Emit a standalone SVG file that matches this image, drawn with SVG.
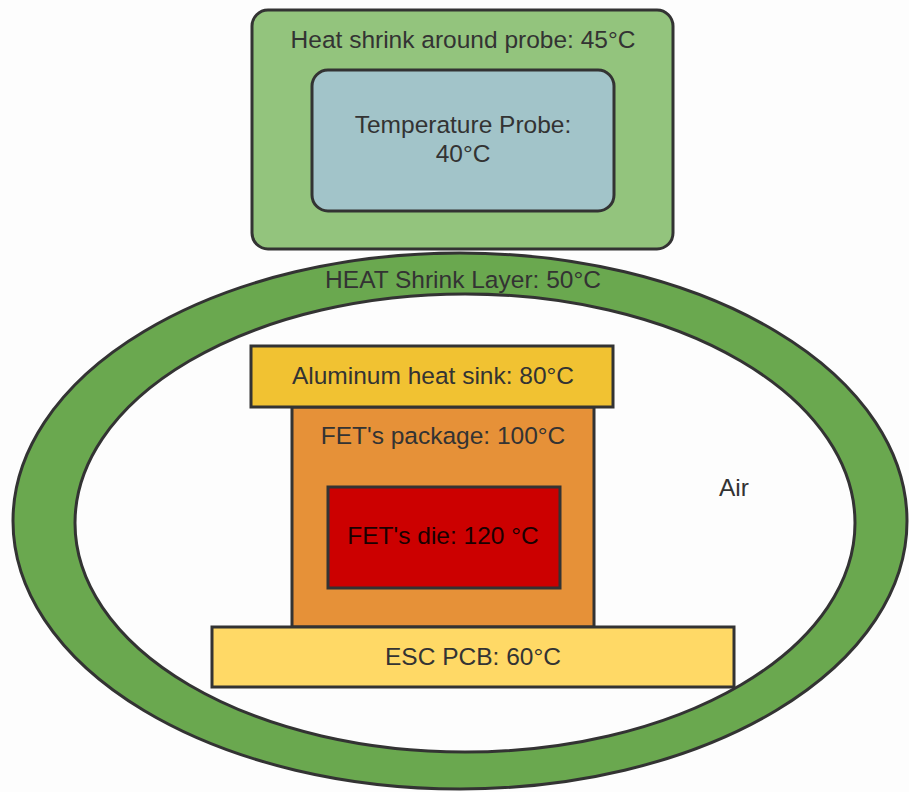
<svg xmlns="http://www.w3.org/2000/svg" width="909" height="792" viewBox="0 0 909 792">
<style>
.s{stroke:#333;stroke-width:3}
.t{font-family:"Liberation Sans",Arial,sans-serif;font-size:24.5px;fill:#333;text-anchor:middle}
</style>
<rect width="909" height="792" fill="#fdfdfd"/>
<g id="heat-shrink-layer">
<ellipse cx="460" cy="521" rx="447" ry="268" fill="#6aa84f" class="s"/>
<ellipse cx="465" cy="523" rx="390" ry="229" fill="#fdfdfd" class="s"/>
<text class="t" x="463" y="288">HEAT Shrink Layer: 50°C</text>
</g>
<g id="air"><text class="t" x="734" y="496">Air</text></g>
<g id="probe-heat-shrink">
<rect x="252" y="10" width="421" height="239" rx="16" fill="#93c47d" class="s"/>
<text class="t" x="463" y="48">Heat shrink around probe: 45°C</text>
</g>
<g id="temperature-probe">
<rect x="312" y="70" width="302" height="141" rx="16" fill="#a2c4c9" class="s"/>
<text class="t" x="463" y="133">Temperature Probe:</text>
<text class="t" x="463" y="162">40°C</text>
</g>
<g id="fet-package">
<rect x="292" y="407" width="302" height="220" fill="#e69138" class="s"/>
<text class="t" x="443" y="444">FET's package: 100°C</text>
</g>
<g id="heat-sink">
<rect x="251" y="346" width="362" height="61" fill="#f1c232" class="s"/>
<text class="t" x="433" y="384">Aluminum heat sink: 80°C</text>
</g>
<g id="fet-die">
<rect x="328" y="487" width="232" height="101" fill="#cc0000" class="s"/>
<text class="t" x="443" y="544" style="fill:#1a0000">FET's die: 120 °C</text>
</g>
<g id="esc-pcb">
<rect x="212" y="627" width="522" height="60" fill="#ffd966" class="s"/>
<text class="t" x="473" y="665">ESC PCB: 60°C</text>
</g>
<g id="connectors"></g>
</svg>
